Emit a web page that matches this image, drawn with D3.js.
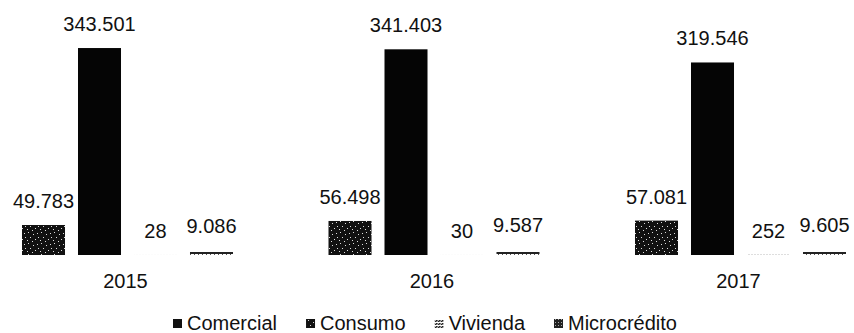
<!DOCTYPE html>
<html>
<head>
<meta charset="utf-8">
<script src="https://cdn.jsdelivr.net/npm/d3@7"></script>
<style>
  body { margin: 0; background: #fff; }
  text { font-family: "Liberation Sans", Arial, sans-serif; fill: #111; }
</style>
</head>
<body>
<script>

var years = ["2015", "2016", "2017"]
var series = ["Comercial", "Consumo", "Vivienda", "Microcrédito"]
var comercial = [49783, 56498, 57081]
var consumo = [343501, 341403, 319546]
var vivienda = [28, 30, 252]
var microcredito = [9086, 9587, 9605]

var values = {
	"Comercial": comercial,
	"Consumo": consumo,
	"Vivienda": vivienda,
	"Microcrédito": microcredito
}

// spanish style numbers: 343.501
var es = d3.formatLocale({decimal: ",", thousands: ".", grouping: [3], currency: ["$", ""]})
var fmt = es.format(",d")

var rows = []
years.forEach(function(y, i) {
	series.forEach(function(s) {
		rows.push({year: y, serie: s, value: values[s][i]})
	})
})

var svg = d3.select("body").append("svg")
	.attr("width", 854)
	.attr("height", 333)

// fills (scan looks like pattern fills of an old office chart)
var defs = svg.append("defs")

var stipple = defs.append("pattern")
	.attr("id", "p-comercial")
	.attr("width", 13).attr("height", 11)
	.attr("patternUnits", "userSpaceOnUse")
stipple.append("rect").attr("width", 13).attr("height", 11).attr("fill", "#111")
var specks = [[2, 1], [7, 3], [11, 2], [4, 6], [9, 8], [1, 9], [6, 10], [12, 6]]
specks.forEach(function(p) {
	stipple.append("rect").attr("x", p[0]).attr("y", p[1]).attr("width", 1).attr("height", 1).attr("fill", "#ddd")
})

var hatch = defs.append("pattern")
	.attr("id", "p-vivienda")
	.attr("width", 3).attr("height", 3)
	.attr("patternUnits", "userSpaceOnUse")
hatch.append("rect").attr("width", 3).attr("height", 3).attr("fill", "#fff")
hatch.append("rect").attr("width", 2).attr("height", 1).attr("fill", "#222")
hatch.append("rect").attr("y", 2).attr("x", 1).attr("width", 2).attr("height", 1).attr("fill", "#222")

// sparse dark rows, reads as a thin line on the small bars
var dots = defs.append("pattern")
	.attr("id", "p-micro")
	.attr("width", 4).attr("height", 6)
	.attr("patternUnits", "userSpaceOnUse")
dots.append("rect").attr("width", 4).attr("height", 6).attr("fill", "#fff")
dots.append("rect").attr("width", 4).attr("height", 2).attr("fill", "#222")
dots.append("rect").attr("width", 1).attr("height", 1).attr("x", 2).attr("y", 2).attr("fill", "#555")

var star = defs.append("pattern")
	.attr("id", "p-micro-key")
	.attr("width", 3).attr("height", 3)
	.attr("patternUnits", "userSpaceOnUse")
star.append("rect").attr("width", 3).attr("height", 3).attr("fill", "#222")
star.append("rect").attr("width", 1).attr("height", 1).attr("x", 1).attr("y", 1).attr("fill", "#aaa")

var fills = {
	"Comercial": "url(#p-comercial)",
	"Consumo": "#050505",
	"Vivienda": "url(#p-vivienda)",
	"Microcrédito": "url(#p-micro)"
}
var keyFills = {
	"Comercial": "#111",
	"Consumo": "url(#p-comercial)",
	"Vivienda": "url(#p-vivienda)",
	"Microcrédito": "url(#p-micro-key)"
}

var x0 = d3.scaleBand()
	.domain(years)
	.range([22, 846])
	.paddingInner(0.3116)
	.paddingOuter(0)

var x1 = d3.scaleBand()
	.domain(series)
	.range([0, x0.bandwidth()])
	.paddingInner(0.232)
	.paddingOuter(0)

var y = d3.scaleLinear()
	.domain([0, 400000])
	.range([255, 14])

var g = svg.append("g")

g.selectAll("rect.bar")
	.data(rows)
	.enter()
	.append("rect")
	.attr("class", "bar")
	.attr("x", function(d) {return x0(d.year) + x1(d.serie)})
	.attr("y", function(d) {return y(d.value)})
	.attr("width", x1.bandwidth())
	.attr("height", function(d) {return y(0) - y(d.value)})
	.attr("fill", function(d) {return fills[d.serie]})

g.selectAll("text.val")
	.data(rows)
	.enter()
	.append("text")
	.attr("class", "val")
	.attr("x", function(d) {return x0(d.year) + x1(d.serie) + x1.bandwidth() / 2})
	.attr("y", function(d) {return y(d.value) - 17})
	.attr("text-anchor", "middle")
	.style("font-size", "20px")
	.text(function(d) {return fmt(d.value)})

// category labels under each group
g.selectAll("text.year")
	.data(years)
	.enter()
	.append("text")
	.attr("class", "year")
	.attr("x", function(d) {return x0(d) + x0.bandwidth() / 2 - 2})
	.attr("y", 288)
	.attr("text-anchor", "middle")
	.style("font-size", "20px")
	.text(function(d) {return d})

// legend
var legend = svg.append("g").attr("transform", "translate(173,0)")
var lx = 0
series.forEach(function(s) {
	var item = legend.append("g").attr("transform", "translate(" + lx + ",0)")
	item.append("rect")
		.attr("x", 0).attr("y", 319)
		.attr("width", 9).attr("height", 9)
		.attr("fill", keyFills[s])
	var t = item.append("text")
		.attr("x", 14).attr("y", 330)
		.style("font-size", "20px")
		.text(s)
	lx += 14 + t.node().getComputedTextLength() + 29
})

</script>
</body>
</html>
